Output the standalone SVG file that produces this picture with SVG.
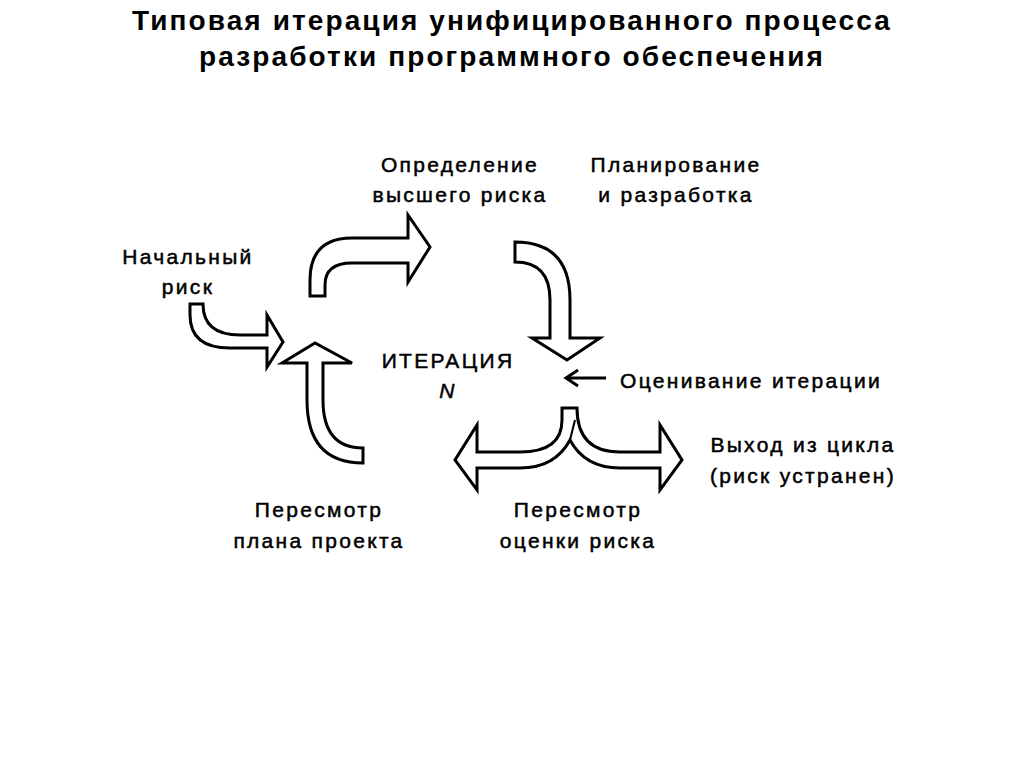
<svg xmlns="http://www.w3.org/2000/svg" width="1024" height="767" viewBox="0 0 1024 767">
<style>
text{font-family:"Liberation Sans",Arial,sans-serif;fill:#000}
.t{font-size:28px;font-weight:bold;text-anchor:middle;letter-spacing:2.1px}
.l{font-size:21px;text-anchor:middle;letter-spacing:2.3px;stroke:#000;stroke-width:0.5}
.a{fill:#fff;stroke:#000;stroke-width:3;stroke-linejoin:miter}
</style>
<rect width="1024" height="767" fill="#fff"/>
<text class="t" x="512" y="30">Типовая итерация унифицированного процесса</text>
<text class="t" x="512" y="66">разработки программного обеспечения</text>
<g id="n1"><text class="l" x="460" y="172">Определение</text><text class="l" x="460" y="202">высшего риска</text></g>
<g id="n2"><text class="l" x="676" y="172">Планирование</text><text class="l" x="676" y="202">и разработка</text></g>
<g id="n3"><text class="l" x="188" y="264">Начальный</text><text class="l" x="188" y="294">риск</text></g>
<g id="n4"><text class="l" x="448" y="368">ИТЕРАЦИЯ</text><text class="l" x="448" y="398" font-style="italic">N</text></g>
<g id="n5"><text class="l" x="751" y="388">Оценивание итерации</text></g>
<g id="n6"><text class="l" x="803" y="452">Выход из цикла</text><text class="l" x="803" y="483">(риск устранен)</text></g>
<g id="n7"><text class="l" x="319" y="517">Пересмотр</text><text class="l" x="319" y="548">плана проекта</text></g>
<g id="n8"><text class="l" x="578" y="517">Пересмотр</text><text class="l" x="578" y="548">оценки риска</text></g>
<g id="connectors">
<path class="a" d="M310,296 L310,280 Q310,238 352,238 L408,238 L408,215 L430,247 L408,282 L408,263 L352,263 Q325,263 325,285 L325,296 Z"/>
<path class="a" d="M515,242 Q570,242 570,300 L570,338 L600,338 L567,360 L532,338 L550,338 L550,300 Q550,262 515,262 Z"/>
<path class="a" d="M190,304 L203,304 Q203,335 240,335 L267,335 L267,315 L283,342 L267,367 L267,348 L230,348 Q190,348 190,315 Z"/>
<path class="a" d="M363,448 Q323,448 323,400 L323,363 L352,363 L315,343 L282,363 L307,363 L307,400 Q307,463 363,463 Z"/>
<path class="a" d="M562,408 L577,408 Q577,452 620,452 L660,452 L660,425 L682,460 L660,490 L660,468 L620,468 Q585,468 570,440 Q555,468 520,468 L477,468 L477,490 L455,460 L477,425 L477,452 L520,452 Q562,452 562,420 Z"/>
<path d="M570,440 L575,420" stroke="#000" stroke-width="2" fill="none"/>
<path d="M567,378 L606,378 M578,370 L566,378 L578,386" stroke="#000" stroke-width="3" fill="none"/>
</g>
</svg>
